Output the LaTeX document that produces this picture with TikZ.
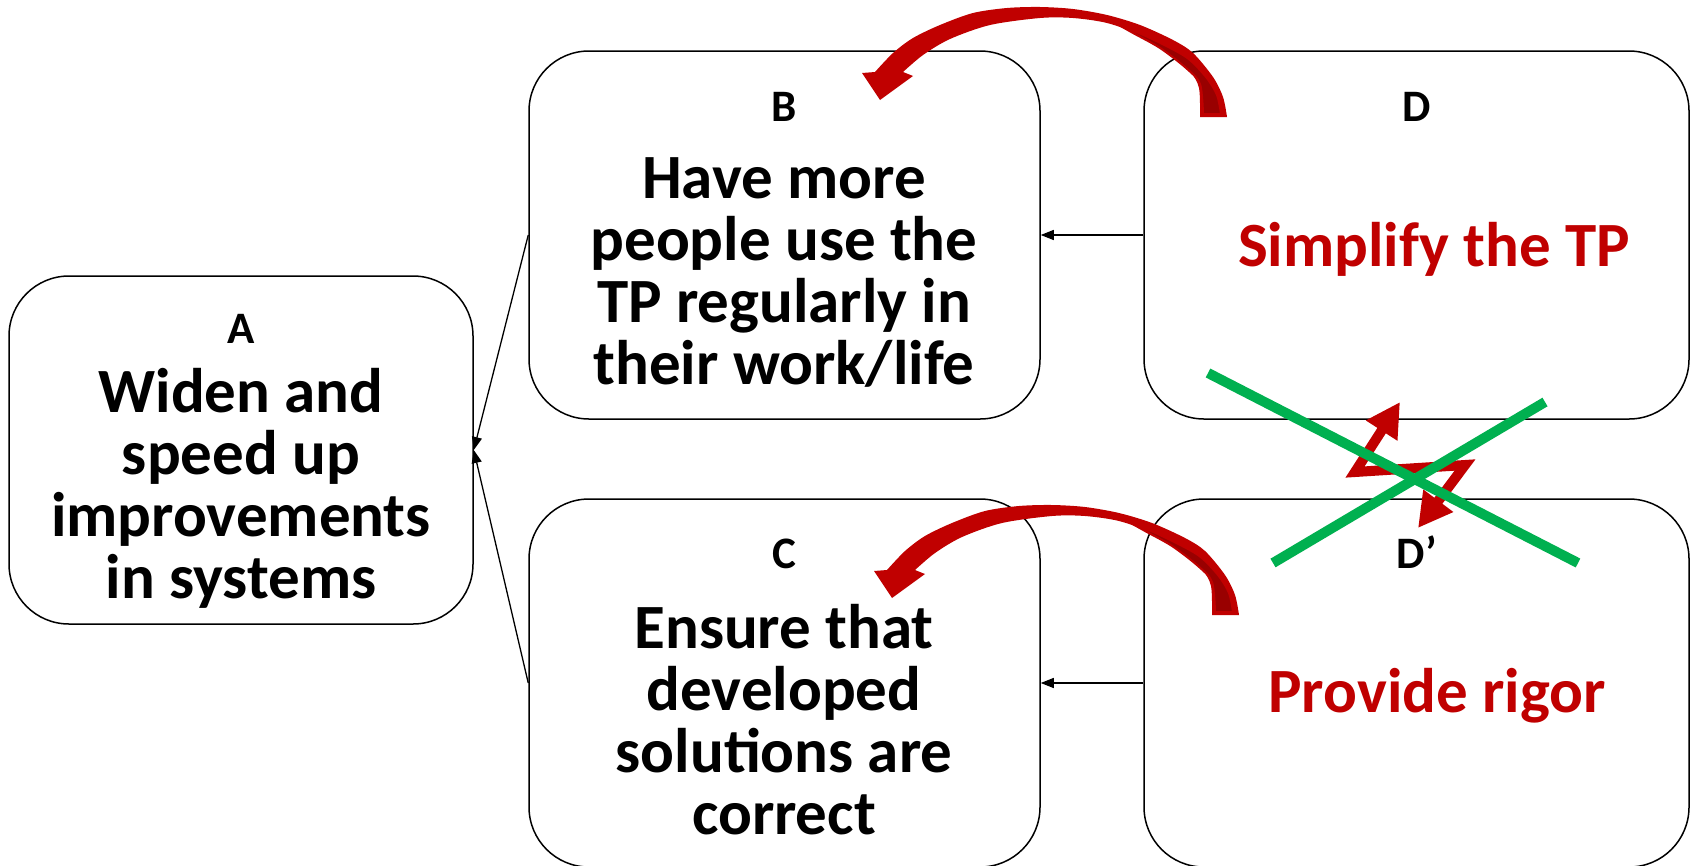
\documentclass[tikz,border=0pt]{standalone}
\usepackage{fontspec}
\setmainfont{Carlito}
\usetikzlibrary{arrows.meta}
\definecolor{tpred}{HTML}{C00000}
\definecolor{tpdark}{HTML}{990000}
\definecolor{tpgreen}{HTML}{00B050}
\tikzset{
  box/.style={draw=black, line width=1.5pt, rounded corners=60pt, inner sep=0pt, minimum height=368pt},
  lbl/.style={font=\fontsize{45}{45}\selectfont\bfseries, inner sep=0pt, anchor=base},
  maintext/.style={font=\fontsize{63}{62}\selectfont\bfseries, align=center, inner sep=0pt, anchor=base},
  redtext/.style={maintext, text=tpred},
  conn/.style={draw=black, line width=1.3pt, -{Triangle[length=13pt,width=10pt]}},
  zig/.style={draw=tpred, line width=10pt, line join=miter, {Triangle[length=34pt,width=35pt]}-{Triangle[length=34pt,width=35pt]}},
  cross/.style={draw=tpgreen, line width=10pt}
}
\newcommand\tpcurvedarrow{%
  \fill[tpred] plot[smooth] coordinates {(1227,117) (1223,97) (1213,77) (1193,53) (1173,40) (1140,25) (1107,15) (1073,9) (1040,7) (1007,8) (973,13) (940,25) (913,38) (893,53) (875,72)}
    -- (862,73) -- (880,100) -- (913,76) -- (903,72)
    -- plot[smooth] coordinates {(903,72) (923,55) (950,39) (990,25) (1040,18) (1073,18) (1107,23) (1140,35) (1173,55) (1190,71) (1199,88) (1200,117)} -- cycle;
  \filldraw[fill=tpdark, draw=tpred, line width=2pt] plot[smooth] coordinates {(1221,114) (1217,95) (1206,77) (1186,57) (1150,38) (1117,24)}
    -- plot[smooth] coordinates {(1117,24) (1133,33) (1160,48) (1186,68) (1200,84) (1203,114)} -- cycle;
}
\begin{document}
\begin{tikzpicture}[x=1pt, y=-1pt]
\useasboundingbox (0,0) rectangle (1696,865);
\fill[white] (0,0) rectangle (1696,865);
% boxes
\node[box, minimum width=464pt, minimum height=348pt] (A) at (241,450) {};
\node[box, minimum width=511pt] (B) at (784.5,235) {};
\node[box, minimum width=511pt] (C) at (784.5,683) {};
\node[box, minimum width=545pt] (D) at (1416.5,235) {};
\node[box, minimum width=545pt] (Dp) at (1416.5,683) {};
% labels
\node[lbl] (lA) at (241,343) {A};
\node[lbl] (lB) at (784,121) {B};
\node[lbl] (lC) at (784,568) {C};
\node[lbl] (lD) at (1417,121) {D};
\node[lbl] (lDp) at (1417,568) {D’};
% texts
\node[maintext] (tA) at (241,598) {Widen and\\speed up\\improvements\\in systems};
\node[maintext] (tB) at (784,384) {Have more\\people use the\\TP regularly in\\their work/life};
\node[maintext] (tC) at (784,834) {Ensure that\\developed\\solutions are\\correct};
\node[redtext] (tD) at (1434,266) {Simplify the TP};
\node[redtext] (tDp) at (1437,712) {Provide rigor};
% connectors
\draw[conn] (B.west) -- (A.east);
\draw[conn] (C.west) -- (A.east);
\draw[conn] (D.west) -- (B.east);
\draw[conn] (Dp.west) -- (C.east);
% curved arrows
\tpcurvedarrow
\begin{scope}[shift={(12,498)}]
\tpcurvedarrow
\end{scope}
% zigzag arrow
\coordinate (zt) at (1400,402);
\coordinate (zl) at (1355,472);
\coordinate (zr) at (1465,465);
\coordinate (zb) at (1418,528);
\draw[zig] (zt) -- (zl) -- (zr) -- (zb);
% green cross
\coordinate (g1a) at (1208,373);
\coordinate (g1b) at (1578,563);
\coordinate (g2a) at (1273,563);
\coordinate (g2b) at (1545,402);
\draw[cross] (g1a) -- (g1b);
\draw[cross] (g2a) -- (g2b);
\end{tikzpicture}
\end{document}
